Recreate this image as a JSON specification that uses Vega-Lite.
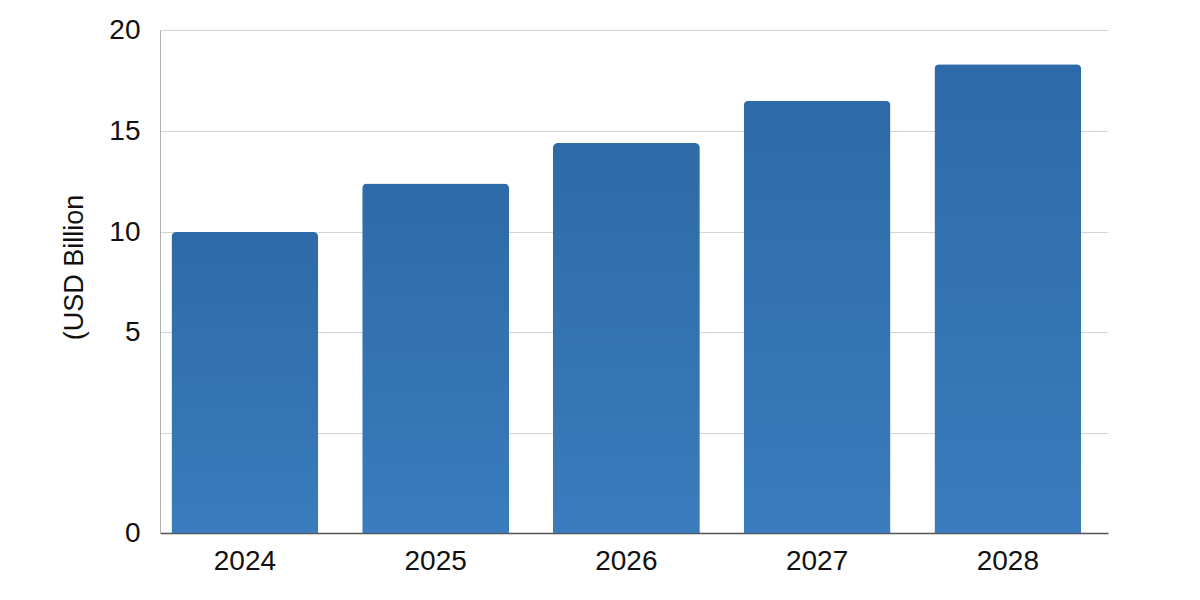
{
  "$schema": "https://vega.github.io/schema/vega-lite/v6.json",
  "width": 948,
  "height": 503,
  "autosize": "none",
  "padding": {"left": 160, "top": 30, "right": 92, "bottom": 67},
  "background": "white",
  "data": {
    "values": [
      {"year": "2024", "value": 10.0},
      {"year": "2025", "value": 12.4},
      {"year": "2026", "value": 14.4},
      {"year": "2027", "value": 16.5},
      {"year": "2028", "value": 18.3}
    ]
  },
  "mark": {
    "type": "bar",
    "cornerRadiusTopLeft": 5,
    "cornerRadiusTopRight": 5,
    "color": {
      "gradient": "linear",
      "x1": 0, "y1": 0, "x2": 0, "y2": 1,
      "stops": [
        {"offset": 0, "color": "#2e6aa7"},
        {"offset": 1, "color": "#3a7cbd"}
      ]
    }
  },
  "encoding": {
    "x": {
      "field": "year",
      "type": "ordinal",
      "title": null,
      "scale": {"paddingInner": 0.23, "paddingOuter": 0.1, "align": 0.3},
      "axis": {
        "labelAngle": 0,
        "labelFontSize": 28,
        "labelFont": "Liberation Sans",
        "labelColor": "#111",
        "labelPadding": 14,
        "ticks": false,
        "domainColor": "#555",
        "domainWidth": 1.5
      }
    },
    "y": {
      "field": "value",
      "type": "quantitative",
      "title": "(USD Billion",
      "scale": {
        "domain": [0, 5, 10, 15, 20],
        "range": [503, 302, 202, 101, 0]
      },
      "axis": {
        "values": [0, 2.5, 5, 10, 15, 20],
        "labelExpr": "datum.value == 2.5 ? '' : datum.label",
        "labelFontSize": 28,
        "labelFont": "Liberation Sans",
        "labelColor": "#111",
        "labelPadding": 20,
        "ticks": false,
        "domainColor": "#b0b0b0",
        "gridColor": "#d4d4d4",
        "titleFont": "Liberation Sans",
        "titleFontSize": 27,
        "titleFontWeight": "normal",
        "titleColor": "#111",
        "titlePadding": 20,
        "titleY": 237
      }
    }
  },
  "config": {
    "view": {"stroke": null}
  }
}
